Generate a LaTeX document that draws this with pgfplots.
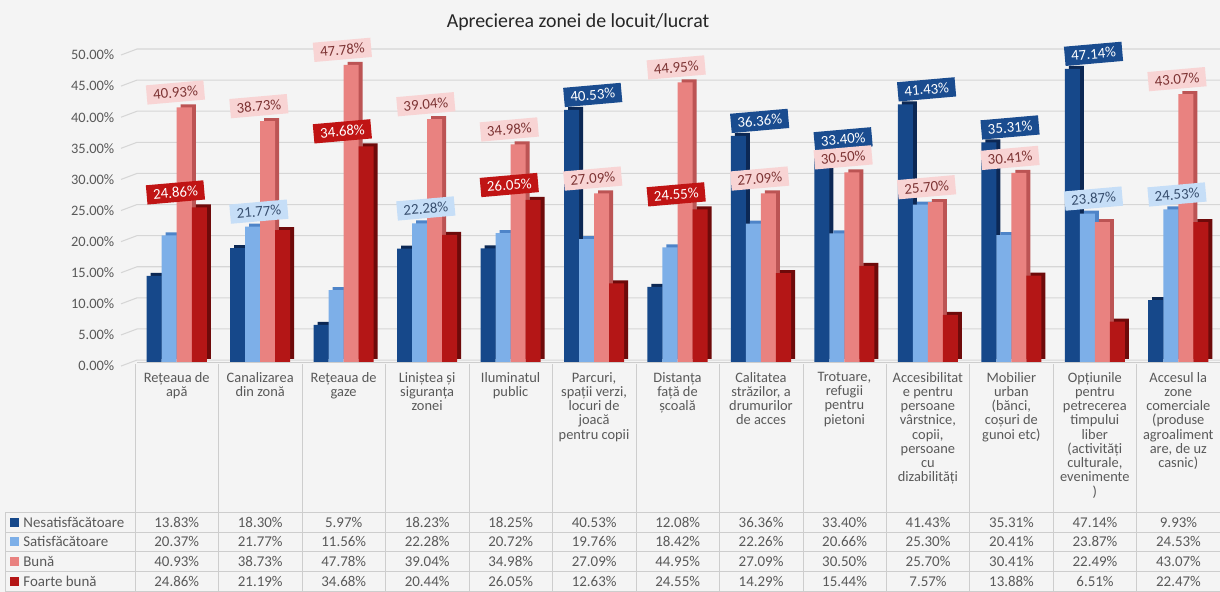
\documentclass[border=0pt]{standalone}
\usepackage{pgfplots}
\pgfplotsset{compat=1.18}
\usepackage{pgfplotstable}
\usepackage{fontspec}
\setmainfont{Carlito}
\definecolor{bg}{RGB}{244,244,244}
\definecolor{gridc}{RGB}{214,214,214}
\definecolor{tline}{RGB}{205,205,205}
\definecolor{txt}{RGB}{89,89,89}
\definecolor{cNes}{RGB}{22,72,138}
\definecolor{cSat}{RGB}{125,175,232}
\definecolor{cBuna}{RGB}{233,130,128}
\definecolor{cFB}{RGB}{180,22,22}
\definecolor{cNesD}{RGB}{12,40,84}
\definecolor{cSatD}{RGB}{78,132,200}
\definecolor{cBunaD}{RGB}{188,84,84}
\definecolor{cFBD}{RGB}{110,10,10}
\definecolor{lNes}{RGB}{26,76,143}
\definecolor{lSat}{RGB}{198,222,247}
\definecolor{lBuna}{RGB}{248,212,212}
\definecolor{lFB}{RGB}{192,20,20}
\definecolor{tSat}{RGB}{55,78,110}
\definecolor{tBuna}{RGB}{125,52,52}
\newcommand\fs{\fontsize{8.2pt}{8.1pt}\selectfont}
\newcommand\fst{\fontsize{8.5pt}{9pt}\selectfont}
\newcommand\fsl{\fontsize{8.5pt}{9pt}\selectfont}
\pgfkeys{/pgf/number format/assume math mode=true}

\pgfplotstableread{
x nes sat buna fb
0 13.83 20.37 40.93 24.86
1 18.30 21.77 38.73 21.19
2 5.97 11.56 47.78 34.68
3 18.23 22.28 39.04 20.44
4 18.25 20.72 34.98 26.05
5 40.53 19.76 27.09 12.63
6 12.08 18.42 44.95 24.55
7 36.36 22.26 27.09 14.29
8 33.40 20.66 30.50 15.44
9 41.43 25.30 25.70 7.57
10 35.31 20.41 30.41 13.88
11 47.14 23.87 22.49 6.51
12 9.93 24.53 43.07 22.47
}\data

\pgfplotsset{
  lbl/.style n args={2}{ybar, bar width=0.18, draw=none, fill=none, point meta=y,
    nodes near coords={\pgfmathprintnumber[fixed,fixed zerofill,precision=2]{\pgfplotspointmeta}\%},
    every node near coord/.append style={fill=#1, text=#2, font=\fsl, rotate=5,
      inner xsep=0.13cm, inner ysep=0.09cm, anchor=south, yshift=0.1cm}},
  depth/.style={ybar, bar width=0.18, draw=none, fill=#1,
    transform canvas={xshift=0.08cm, yshift=0.06cm}},
  front/.style={ybar, bar width=0.18, draw=none, fill=#1},
}

\begin{document}
\begin{tikzpicture}
\fill[bg] (0,0) rectangle (24.4cm,11.84cm);
\useasboundingbox (0,0) rectangle (24.4cm,11.84cm);

% gridlines (back wall) in pixel coordinates
\begin{scope}[x=0.02cm, y=-0.02cm, shift={(0cm,11.84cm)}]
  \foreach \v in {0,5,...,50} {
    \pgfmathsetmacro\yy{362-6.22*\v}
    \draw[gridc, line width=0.6pt] (121,\yy+4) -- (137,\yy-2) -- (1220,\yy-2);
  }
\end{scope}

\node[font=\fontsize{11.3pt}{13pt}\selectfont, text=black!85] at (11.56cm,11.40cm) {Aprecierea zonei de locuit/lucrat};

\begin{axis}[
  at={(2.7cm,4.6cm)}, anchor=south west, scale only axis,
  width=21.7cm, height=6.22cm,
  xmin=-0.5, xmax=12.5, ymin=0, ymax=50,
  ytick={0,5,...,50},
  axis line style={draw=none}, major tick length=0pt,
  xtick={0,...,12},
  xticklabels={{Rețeaua de\\apă},{Canalizarea\\din zonă},{Rețeaua de\\gaze},
    {Liniștea și\\siguranța\\zonei},{Iluminatul\\public},
    {Parcuri,\\spații verzi,\\locuri de\\joacă\\pentru copii},
    {Distanța\\față de\\școală},{Calitatea\\străzilor, a\\drumurilor\\de acces},
    {Trotuare,\\refugii\\pentru\\pietoni},
    {Accesibilitat\\e pentru\\persoane\\vârstnice,\\copii,\\persoane\\cu\\dizabilități},
    {Mobilier\\urban\\(bănci,\\coșuri de\\gunoi etc)},
    {Opțiunile\\pentru\\petrecerea\\timpului\\liber\\(activități\\culturale,\\evenimente\\)},
    {Accesul la\\zone\\comerciale\\(produse\\agroaliment\\are, de uz\\casnic)}},
  xticklabel style={align=center, anchor=north, font=\fs, text=txt, yshift=-0.08cm},
  yticklabel={\pgfmathprintnumber[fixed,fixed zerofill,precision=2]{\tick}\%},
  yticklabel style={font=\fs, text=txt, xshift=-0.29cm, yshift=-0.08cm},
  clip=false,
]
\addplot[depth=cNesD, bar shift=-0.27] table[x=x,y=nes]{\data};
\addplot[front=cNes, bar shift=-0.27] table[x=x,y=nes]{\data};
\addplot[depth=cSatD, bar shift=-0.09] table[x=x,y=sat]{\data};
\addplot[front=cSat, bar shift=-0.09] table[x=x,y=sat]{\data};
\addplot[depth=cBunaD, bar shift=0.09] table[x=x,y=buna]{\data};
\addplot[front=cBuna, bar shift=0.09] table[x=x,y=buna]{\data};
\addplot[depth=cFBD, bar shift=0.27] table[x=x,y=fb]{\data};
\addplot[front=cFB, bar shift=0.27] table[x=x,y=fb]{\data};

\addplot[lbl={lNes}{white}, bar shift=-0.27] coordinates {(5,40.53) (7,36.36) (8,33.40) (9,41.43) (10,35.31) (11,47.14)};
\addplot[lbl={lSat}{tSat}, bar shift=-0.09] coordinates {(1,21.77) (3,22.28) (11,23.87) (12,24.53)};
\addplot[lbl={lBuna}{tBuna}, bar shift=0.09] coordinates {(0,40.93) (1,38.73) (2,47.78) (3,39.04) (4,34.98) (5,27.09) (6,44.95) (7,27.09) (8,30.50) (9,25.70) (10,30.41) (12,43.07)};
\addplot[lbl={lFB}{white}, bar shift=0.27] coordinates {(0,24.86) (2,34.68) (4,26.05) (6,24.55)};
\end{axis}

% data table in pixel coordinates
\begin{scope}[x=0.02cm, y=-0.02cm, shift={(0cm,11.84cm)}]
  \draw[tline] (137,362) -- (1220,362);
  \foreach \k in {0,...,13} \draw[tline] ({135+83.46*\k},364) -- ({135+83.46*\k},592);
  \draw[tline] (5,512) -- (5,592);
  \foreach \yy in {512,531.75,551.5,571.25,591.2} \draw[tline] (5,\yy) -- (1220,\yy);
  \foreach \n/\c/\r in {Nesatisfăcătoare/cNes/0, Satisfăcătoare/cSat/1, Bună/cBuna/2, Foarte bună/cFB/3} {
    \fill[\c] (10,{517.5+19.75*\r}) rectangle ++(9,9);
    \node[anchor=west, font=\fst, text=txt, inner sep=0pt] at (23,{522+19.75*\r}) {\n};
  }
  \foreach \col [count=\r from 0] in {nes,sat,buna,fb} {
    \foreach \k in {0,...,12} {
      \pgfplotstablegetelem{\k}{\col}\of\data
      \node[font=\fst, text=txt, inner sep=0pt] at ({135+83.46*(\k+0.5)},{522+19.75*\r}) {\pgfmathprintnumber[fixed,fixed zerofill,precision=2]{\pgfplotsretval}\%};
    }
  }
\end{scope}
\end{tikzpicture}
\end{document}
